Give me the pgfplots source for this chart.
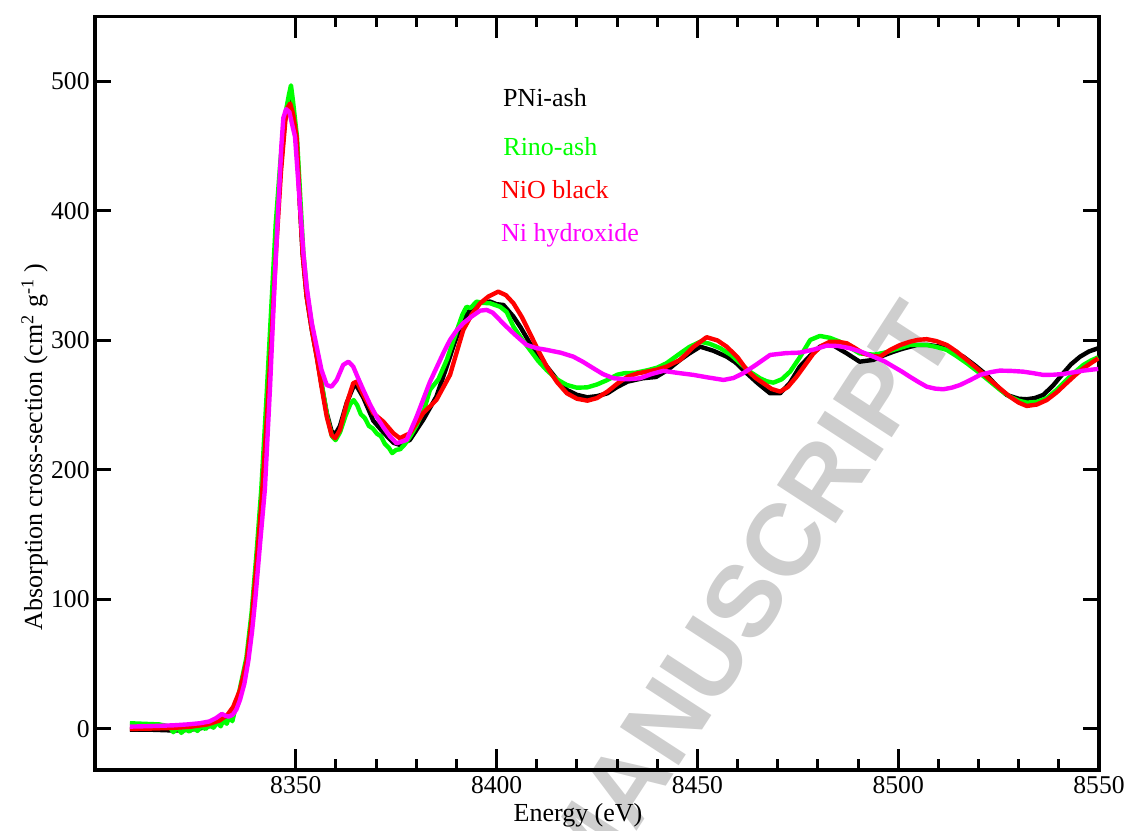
\documentclass[border=0pt]{standalone}
\usepackage{fontspec}
\setmainfont{Liberation Serif}
\setsansfont{Liberation Sans}
\usepackage{pgfplots}
\pgfplotsset{compat=1.18}
\definecolor{wm}{RGB}{206,206,206}
\definecolor{cgreen}{RGB}{0,255,0}
\definecolor{cred}{RGB}{255,0,0}
\definecolor{cmag}{RGB}{255,0,255}
\begin{document}
\begin{tikzpicture}
% watermark
\node[anchor=east, inner sep=0pt, rotate=57, text=wm, font=\sffamily\bfseries\fontsize{51}{54}\selectfont] at (417.5pt,227.5pt) {ACCEPTED MANUSCRIPT};
\begin{axis}[
  at={(0,0)}, anchor=south west,
  scale only axis, width=502pt, height=376.65pt,
  xmin=8300, xmax=8550, ymin=-31.7, ymax=550,
  xtick={8350,8400,8450,8500,8550},
  ytick={0,100,200,300,400,500},
  minor x tick num=4,
  tick align=inside,
  axis line style={line width=1.6pt},
  every tick/.style={black, line width=1.5pt},
  major tick length=7.8pt, minor tick length=5.3pt,
  xtick style={/pgfplots/major tick length=10.5pt},
  tick label style={font=\fontsize{12.8}{14}\selectfont},
  xticklabel style={inner ysep=3pt},
  yticklabel style={inner xsep=2.5pt},
  /pgf/number format/assume math mode=true,
  /pgf/number format/1000 sep={},
  clip=false,
  every axis plot/.append style={line width=2.2pt, line join=round},
]
\addplot[black] coordinates {(8308.7,-0.5) (8314,-0.6) (8319.5,-1.2) (8323,-0.8) (8326,0.3) (8329,2.5) (8331,5) (8333,8) (8334.4,14) (8336.1,27) (8337.8,52) (8339.0,84) (8340.3,132) (8341.5,180) (8342.7,242) (8343.9,308) (8345.0,372) (8346.2,432) (8347.3,470) (8348.2,484) (8348.7,487) (8349.3,478) (8350.2,456) (8351.0,406) (8351.7,367) (8352.7,334) (8354.0,308) (8355.2,288) (8356.4,266) (8357.7,244) (8358.9,230) (8359.8,227.5) (8361.0,234) (8362.7,252) (8364.3,264) (8365.0,265.6) (8366.8,256) (8369.3,238) (8371.8,229) (8374.3,221) (8375.9,219.3) (8378.4,223.2) (8381.7,238.6) (8385.0,256.6) (8387.6,280) (8389.5,298) (8391.7,315.8) (8393.5,324) (8395.0,328.7) (8398.4,330) (8400.0,328) (8401.7,327.4) (8404.2,318.4) (8406,310) (8408.3,297.8) (8410.5,288) (8412.5,279.8) (8415,270) (8417.5,261.8) (8420,258) (8422.6,256.1) (8425,257) (8427.6,259.2) (8430,264) (8432.6,268.2) (8436.4,270.8) (8439.7,271.8) (8442.5,277) (8445.7,285) (8448,290) (8450.7,295.2) (8454,292) (8457.3,287.5) (8459.5,283) (8461.4,277.2) (8465,267) (8468.1,259.2) (8470.6,259.2) (8473,267) (8475.5,279.8) (8478,288) (8480.5,295.2) (8483.0,297.8) (8485,294) (8487.2,290) (8490.4,283.6) (8493.8,285) (8496,288) (8498.8,291.3) (8501,293.5) (8504.6,296.5) (8507.5,296.5) (8510.4,295.2) (8513,292) (8516.2,287.5) (8519,281) (8522.0,273.4) (8524.5,265) (8527.0,257.9) (8530,255) (8532.0,254.6) (8534,255.5) (8536.1,257.9) (8538.5,265) (8541.1,274.7) (8543,281.5) (8545.3,287.5) (8547.5,291.5) (8549.8,294)};
\addplot[cgreen] coordinates {(8308.7,4.4) (8312,4) (8316,3.5) (8318.5,2) (8319.5,-2.5) (8320.5,1) (8321.5,-3) (8322.5,0) (8323.5,-2) (8324.5,1) (8325.5,-1.5) (8326.5,2) (8327.5,0) (8328.5,3) (8329.5,1) (8330.5,5) (8331.3,2) (8332,7) (8332.8,4) (8333.5,10) (8334.2,6) (8334.8,14) (8336,30) (8337.7,55) (8339,90) (8340.2,135) (8341.4,185) (8342.6,250) (8343.8,320) (8345,390) (8346.2,440) (8347.4,475) (8348.3,490) (8348.8,497) (8349.3,485) (8350.3,457) (8351.2,406) (8351.9,367) (8352.9,334) (8354.2,308) (8355.4,287) (8356.6,264) (8357.9,240) (8359.0,226) (8359.9,223) (8361.0,229) (8362.4,242) (8363.6,251) (8364.4,254) (8365.3,250) (8366.2,243) (8367.2,240) (8368.2,234) (8369.2,232) (8370.2,228) (8371.2,226) (8372.2,220) (8373.2,217) (8374.0,213) (8375,215.5) (8376,216) (8377.2,220) (8378.5,226) (8380,234) (8382,247) (8383.4,261.8) (8385.5,270) (8387.6,285) (8389.8,305) (8391.5,320) (8392.5,326) (8393.5,325) (8395,330) (8396.5,329) (8398.4,328.7) (8400.9,326) (8402.5,322) (8404.2,310.7) (8406.3,301) (8408.3,292.7) (8410.4,284) (8412.5,277) (8415,270) (8417.5,265.6) (8420,263.5) (8422.6,263.8) (8425,266) (8427.6,269.5) (8430,273.5) (8431.8,274.7) (8434.5,275) (8437.6,277) (8440,279) (8442.3,282.4) (8445.7,290) (8448,295) (8450.7,299) (8453,297.5) (8455.7,294) (8458.5,288.5) (8461.5,280) (8463.5,275) (8465.6,270.8) (8467.2,268.5) (8468.9,267.4) (8471,270) (8473.1,276) (8475.5,287) (8478.1,300.4) (8480.5,303.5) (8483,302) (8485.5,299) (8488,294.5) (8490.4,290) (8494,289) (8496.5,290.5) (8498.8,292.7) (8502.9,296.5) (8507.1,296.5) (8509.5,295) (8512.1,292.7) (8514.5,288) (8517.1,282.4) (8520,275.5) (8522.9,268.2) (8525.5,261.5) (8527.8,256.6) (8530,253.5) (8532.0,252) (8534.5,252.5) (8537.0,255.4) (8539.5,262) (8541.9,269.5) (8544,275.5) (8546.1,281.1) (8548,284.5) (8549.8,287)};
\addplot[cred] coordinates {(8308.7,0) (8314,0.3) (8319.5,0.8) (8324,1.8) (8328,3.5) (8331,6.5) (8333,11) (8334.4,17) (8336.1,30) (8337.8,53) (8339.0,84) (8340.3,130) (8341.5,177) (8342.8,240) (8344.0,305) (8345.1,370) (8346.3,430) (8347.4,470) (8348.0,480) (8348.6,483) (8349.3,475) (8350.2,457) (8351.0,406) (8351.7,367) (8352.7,334) (8354.0,308) (8355.2,287.5) (8356.4,264.3) (8357.7,241.2) (8358.9,227) (8359.8,224.5) (8361.0,231) (8362.7,251.5) (8364.3,267) (8365.2,268.2) (8366.8,258) (8369.3,243.8) (8371.8,237.3) (8374.3,228.3) (8375.9,224.5) (8378.4,228.3) (8381.7,243.8) (8385.0,254) (8388.4,273.4) (8391.7,308.1) (8393.8,320) (8395.9,328.7) (8398,334) (8400.4,337.7) (8402.3,335) (8404.2,328.7) (8406.3,318) (8408.3,305.5) (8410.4,292) (8412.5,279.8) (8415,268) (8417.5,259.2) (8420,255) (8422.6,253.5) (8425,255.5) (8427.6,260.5) (8430,266.5) (8432.6,272) (8435,274.5) (8437.6,276) (8440,277.5) (8442.3,279.8) (8445.7,285) (8449,295) (8452.3,302.5) (8455,300) (8457.3,295.2) (8460,287) (8462.3,277.2) (8464.5,271) (8466.4,267) (8468.5,262.5) (8470.6,260.5) (8472.5,264) (8474.7,272) (8476.8,281) (8478.9,290) (8481,296) (8483.0,299) (8485,299) (8487.2,297.8) (8489.3,294) (8491.3,290) (8493.5,288) (8495.5,287.5) (8498.0,292.7) (8500.5,296.5) (8502.9,299) (8505,300.5) (8507.1,301) (8509.5,299.5) (8512.1,296.5) (8514.5,291.5) (8517.1,285) (8520,277.5) (8522.9,269.5) (8525.5,262.5) (8527.8,256.6) (8530,252) (8532.0,249.4) (8534.5,250.5) (8537.0,254) (8539.5,260) (8541.9,267) (8544,273) (8546.1,278.5) (8548,282.5) (8549.8,286.2)};
\addplot[cmag] coordinates {(8308.7,1.8) (8314,2.2) (8319.5,2.8) (8323,3.5) (8326.1,4.4) (8328.5,5.8) (8330.2,8.5) (8331.6,11.6) (8332.5,10.2) (8333.3,9.5) (8334.3,11) (8335.2,15) (8336.1,22.4) (8337.2,35) (8338.2,53) (8339.1,75) (8339.9,99.6) (8341.1,143) (8342.3,185) (8343.6,265) (8344.8,350) (8345.6,400) (8346.4,450) (8346.9,472) (8347.6,478.6) (8348.4,476.4) (8349.0,468) (8349.8,457.4) (8351.0,406) (8351.9,367.3) (8352.7,341.6) (8354.0,313.3) (8355.2,295.2) (8356.4,277.2) (8357.7,265.6) (8358.9,264.3) (8360.2,269.5) (8361.8,281.1) (8363.1,283.6) (8364.3,279.8) (8365.5,271) (8366.8,261.8) (8368.5,250.5) (8370.1,241.2) (8371.8,233) (8373.5,225.7) (8375.1,220.6) (8377.6,223.2) (8380.1,241.2) (8383.4,268) (8386.7,290) (8388.4,300.4) (8390,307.5) (8391.7,313.3) (8393.8,318.5) (8395.9,323) (8397.5,323.6) (8399,321.5) (8400.0,318.4) (8402,312) (8404.2,305.5) (8406,300.5) (8407.5,296.5) (8410,294) (8412.5,292.7) (8416,290.5) (8419.1,287.5) (8421.5,283.5) (8424.1,278.5) (8426.5,274) (8429.1,270.8) (8432.5,270) (8435.7,270.8) (8438.5,274) (8441.5,276.5) (8445.7,274.7) (8449.0,273.4) (8452.5,271.5) (8456.5,269.5) (8459,271) (8461.4,274.7) (8464.5,281) (8468.1,288.8) (8472,290.2) (8475.5,290.6) (8479,293) (8482.2,296) (8485,295.7) (8488.0,294) (8491,291) (8493.8,287.5) (8496.5,284) (8498.8,279.8) (8500.9,276) (8502.9,272) (8505,268) (8507.1,264.3) (8509.2,262.8) (8511.2,262.3) (8513.3,263.5) (8515.4,265.6) (8518,269.5) (8520.4,273.4) (8523,275.5) (8525.3,276.7) (8528,276.5) (8531.1,275.9) (8533.5,274.8) (8536.1,273.4) (8538.5,273.5) (8541.1,274.1) (8543.5,275.3) (8546.1,276.7) (8549.8,278)};
\node[anchor=base west, inner sep=0pt, text=black, font=\fontsize{13}{15}\selectfont] at (axis cs:8401.5,481) {PNi-ash};
\node[anchor=base west, inner sep=0pt, text=cgreen, font=\fontsize{13}{15}\selectfont] at (axis cs:8401.6,443.2) {Rino-ash};
\node[anchor=base west, inner sep=0pt, text=cred, font=\fontsize{13}{15}\selectfont] at (axis cs:8401.0,409.8) {NiO black};
\node[anchor=base west, inner sep=0pt, text=cmag, font=\fontsize{13}{15}\selectfont] at (axis cs:8401.0,376.3) {Ni hydroxide};
\end{axis}
\node[anchor=base, inner sep=0pt, font=\fontsize{13}{15}\selectfont] at (241.5pt,-25.5pt) {Energy (eV)};
\node[anchor=base, rotate=90, inner sep=0pt, font=\fontsize{13}{15}\selectfont] at (-26.5pt,161.5pt) {Absorption cross-section (cm\textsuperscript{2} g\textsuperscript{-1} )};
\pgfresetboundingbox
\path (-47.5pt,-30pt) rectangle (517pt,385pt);
\end{tikzpicture}
\end{document}
